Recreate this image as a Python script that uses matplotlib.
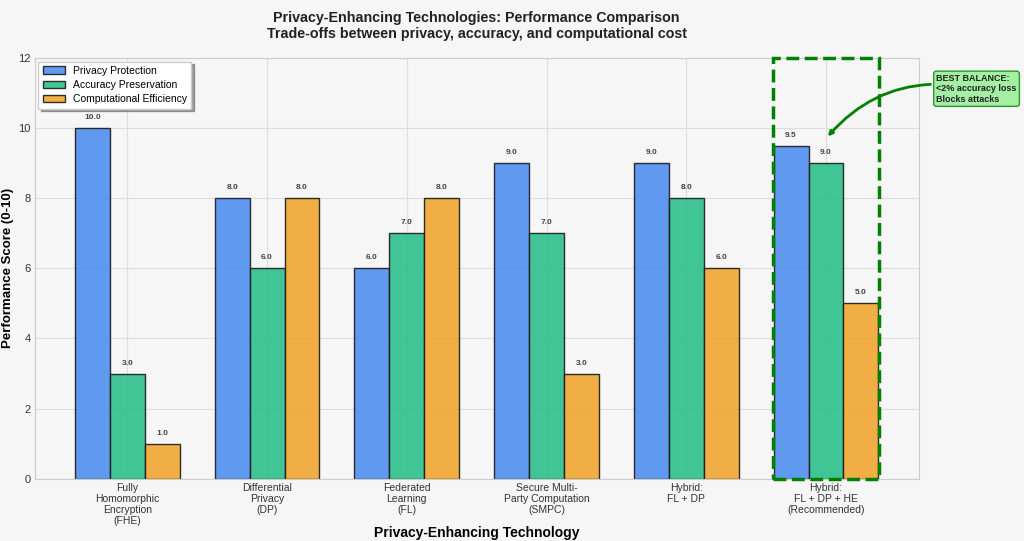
import numpy as np
import matplotlib.pyplot as plt
from matplotlib.patches import Rectangle

plt.rcParams['font.family'] = ['Liberation Sans', 'DejaVu Sans']

technologies = ['Fully\nHomomorphic\nEncryption\n(FHE)', 'Differential\nPrivacy\n(DP)',
                'Federated\nLearning\n(FL)', 'Secure Multi-\nParty Computation\n(SMPC)',
                'Hybrid:\nFL + DP', 'Hybrid:\nFL + DP + HE\n(Recommended)']
privacy = [10, 8, 6, 9, 9, 9.5]
accuracy = [3, 6, 7, 7, 8, 9]
efficiency = [1, 8, 8, 3, 6, 5]
series_names = ['Privacy Protection', 'Accuracy Preservation', 'Computational Efficiency']
colors = ['#4f8ff0', '#2ec08c', '#f0a630']

fig = plt.figure(figsize=(10.24, 5.41), dpi=100, facecolor='#f7f6f7')
ax = fig.add_axes([0.034, 0.115, 0.863, 0.778])
ax.set_facecolor('#f7f6f7')

x = np.arange(len(technologies))
w = 0.25
for k, (vals, name, c) in enumerate(zip([privacy, accuracy, efficiency], series_names, colors)):
    bars = ax.bar(x + (k - 1) * w, vals, w, label=name, color=c, alpha=0.9,
                  edgecolor='#1a1a1a', linewidth=1.0, zorder=2)
    for b, v in zip(bars, vals):
        ax.text(b.get_x() + b.get_width() / 2, v + 0.2, f'{v:.1f}', ha='center', va='bottom',
                fontsize=6, fontweight='bold', color='#444444')

ax.set_ylim(0, 12)
ax.set_xticks(x)
ax.set_xticklabels(technologies, fontsize=7.5, color='#333333', linespacing=1.12)
ax.tick_params(axis='y', labelsize=8, colors='#333333', pad=3)
ax.tick_params(axis='x', pad=3)
ax.tick_params(length=0)
ax.grid(True, color='#dddddd', linewidth=0.8, zorder=0)
ax.set_axisbelow(True)
for s in ax.spines.values():
    s.set_color('#cccccc')

ax.set_ylabel('Performance Score (0-10)', fontsize=9.5, fontweight='bold')
ax.yaxis.set_label_coords(-0.023, 0.5)
ax.set_xlabel('Privacy-Enhancing Technology', fontsize=10, fontweight='bold', labelpad=0)
ax.set_title('Privacy-Enhancing Technologies: Performance Comparison\n'
             'Trade-offs between privacy, accuracy, and computational cost',
             fontsize=10.3, fontweight='bold', color='#222222', pad=14)

ax.add_patch(Rectangle((4.62, 0), 0.76, 12, fill=False, edgecolor='green',
                       linestyle='--', linewidth=2.5, zorder=4, clip_on=False))

ax.annotate('BEST BALANCE:\n<2% accuracy loss\nBlocks attacks', xy=(5.0, 9.7),
            xytext=(5.79, 11.12), fontsize=6.5, fontweight='bold', color='#222222',
            ha='left', va='center', annotation_clip=False,
            bbox=dict(boxstyle='round,pad=0.3', facecolor='#90ee90', edgecolor='green', alpha=0.8),
            arrowprops=dict(arrowstyle='->', color='green', lw=2,
                            connectionstyle='arc3,rad=0.3'))

ax.legend(loc='upper left', fontsize=7.5, frameon=True, shadow=True, fancybox=False,
          facecolor='white', edgecolor='#cccccc', borderaxespad=0.35,
          handlelength=2.1, handletextpad=0.8, labelspacing=0.42)

fig.savefig('out.png', dpi=100, facecolor=fig.get_facecolor())
